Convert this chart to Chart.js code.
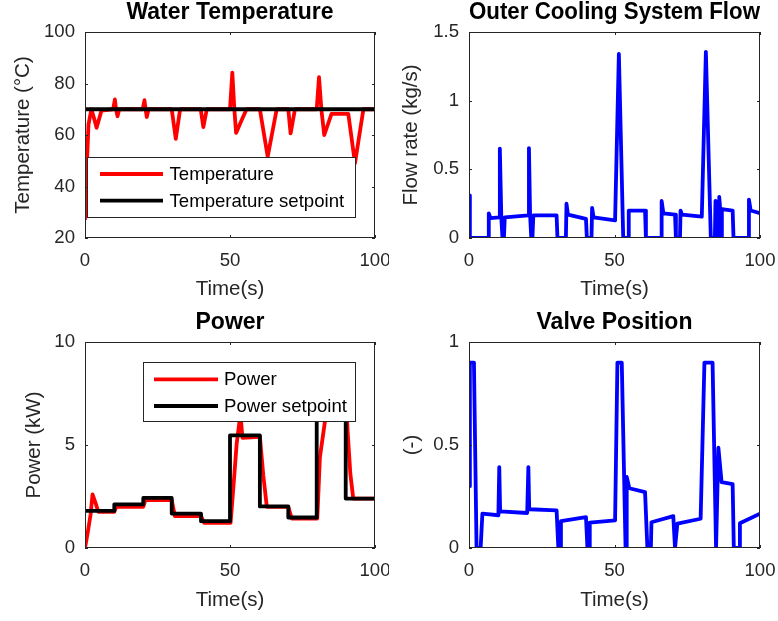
<!DOCTYPE html>
<html>
<head>
<meta charset="utf-8">
<script src="https://cdn.jsdelivr.net/npm/chart.js@4.4.1/dist/chart.umd.min.js"></script>
<style>
    body{margin:0;background:#fff;width:778px;height:621px;position:relative;overflow:hidden;}
    canvas{position:absolute;}
</style>
</head>
<body>
<canvas id="tempChart" width="389" height="310" style="left:0;top:0"></canvas>
<canvas id="flowChart" width="389" height="310" style="left:389px;top:0"></canvas>
<canvas id="powerChart" width="389" height="311" style="left:0;top:310px"></canvas>
<canvas id="valveChart" width="389" height="311" style="left:389px;top:310px"></canvas>
<script>
// Data

    const timeTicks = [0, 50, 100];

    // water temperature
    const tTemp = [0, 0.6, 1.2, 2.2, 3, 4, 5.7, 9.7, 10.3, 10.7, 11.2, 11.8, 19.9, 20.5, 20.9, 21.3, 21.9,
        29.9, 31.3, 32.8, 39.9, 40.8, 42, 50, 50.8, 51.5, 52.1, 54, 55.7, 60.3, 63, 66.1,
        70.1, 70.9, 72.4, 79.9, 80.7, 81.5, 82.5, 85, 90.8, 93.1, 96, 100];
    const temp = [27, 47, 64, 70, 67, 62.8, 69.5, 70, 73.8, 70, 67.3, 70, 70, 73.5, 70, 67, 70,
        70, 58.5, 70, 70, 63.1, 70, 70, 84.2, 70, 60.8, 65.7, 70, 70, 51.6, 70,
        70, 60.6, 70, 70, 82.5, 70, 60, 68.2, 68.2, 49, 70, 70];
    const tTempSet = [0, 100];
    const tempSet = [70, 70];
    const tempTicks = [20, 40, 60, 80, 100];

    // outer cooling flow
    const tFlow = [0, 0.3, 6.6, 6.8, 7.4, 10.4, 10.6, 11.1, 11.5, 12, 12.3,
        20.3, 20.6, 21, 21.4, 21.8, 22.1, 30.1, 30.4, 33.3, 33.5, 34, 40.2, 40.5,
        42.1, 42.3, 42.8, 50.2, 51.5, 53, 54.7, 54.9, 60.5, 60.8, 66, 66.2, 66.8,
        70.8, 71.1, 72.5, 72.7, 73.2, 80, 81.4, 83.1, 84.5, 84.7, 85, 85.3, 85.8,
        86, 86.3, 86.6, 86.9, 90.6, 90.9, 96, 96.2, 96.8, 100];
    const flow = [0.31, 0, 0, 0.18, 0.145, 0.15, 0.65, 0.15, 0, 0, 0.15,
        0.165, 0.655, 0.165, 0, 0, 0.165, 0.165, 0, 0, 0.25, 0.17, 0.14, 0,
        0, 0.22, 0.15, 0.128, 1.34, 0, 0, 0.2, 0.2, 0, 0, 0.27, 0.18,
        0.17, 0, 0, 0.2, 0.17, 0.155, 1.355, 0, 0, 0.27, 0.25, 0, 0,
        0.3, 0.21, 0, 0.21, 0.2, 0, 0, 0.28, 0.2, 0.18];
    const flowTicks = [0, 0.5, 1, 1.5];

    // power
    const tPower = [0, 1, 1.9, 2.6, 3.6, 4.6, 10.1, 10.8, 20.1, 20.8, 29.9, 31, 40, 41.1,
        50.2, 51.2, 52.3, 53.6, 54.3, 60.3, 61.5, 62.7, 70.1, 71.3,
        80.1, 81, 82.8, 84.5, 89.9, 90.5, 91.5, 92.5, 100];
    const power = [0, 0.8, 1.6, 2.6, 2.2, 1.76, 1.76, 2.0, 2.0, 2.32, 2.32, 1.55, 1.55, 1.22,
        1.22, 3, 5.06, 6.5, 5.35, 5.4, 3.5, 2.0, 2.0, 1.43,
        1.43, 4.4, 6.2, 7.8, 8.1, 5.8, 3.6, 2.4, 2.4];
    const tPowerSet = [0, 10.1, 20.1, 29.9, 40, 50, 60.3, 70.1, 79.9, 89.9, 100];
    const powerSet = [1.8, 2.12, 2.43, 1.67, 1.3, 5.47, 2.02, 1.48, 8, 2.4, 2.4];
    const powerTicks = [0, 5, 10];

    // valve position
    const tValve = [0, 0.3, 1.7, 2.6, 4.0, 4.6, 10.1, 10.4, 10.7, 20.0, 20.4, 20.7,
        30.1, 30.7, 31.5, 31.6, 40.2, 40.7, 41.4, 41.5, 50.2, 51, 52.5, 53.8, 54.0, 54.2, 55.1,
        60.5, 61.3, 62.5, 62.7, 70.2, 70.8, 71.6, 79.6, 80.9, 83.7, 84.9, 85.7, 86.8,
        90.6, 91, 92.9, 93.1, 100];
    const valve = [0.3, 0.9, 0.9, 0, 0, 0.167, 0.159, 0.393, 0.178, 0.17, 0.393, 0.188,
        0.183, 0, 0, 0.13, 0.15, 0, 0, 0.123, 0.134, 0.9, 0.9, 0, 0, 0.345, 0.29,
        0.271, 0, 0, 0.125, 0.155, 0, 0.118, 0.142, 0.9, 0.9, 0, 0.487, 0.32,
        0.31, 0, 0, 0.12, 0.167];
    const valveTicks = [0, 0.5, 1];

// End data

    const FONT = "'Liberation Sans', Arial, Helvetica, sans-serif";
    const AXIS = '#262626';
    const LW = 3.8;

    function pts(xs, ys){
        return xs.map((x, i) => ({x: x, y: ys[i]}));
    }

    function line(label, xs, ys, color, order, stepped){
        return {
            label: label,
            data: pts(xs, ys),
            borderColor: color,
            backgroundColor: color,
            borderWidth: LW,
            borderJoinStyle: 'round',
            pointRadius: 0,
            tension: 0,
            stepped: stepped || false,
            order: order
        };
    }

    // matlab style box with inner ticks
    const frame = {
        id: 'frame',
        afterDatasetsDraw(chart){
            const ctx = chart.ctx;
            const a = chart.chartArea;
            const x = chart.scales.x, y = chart.scales.y;
            ctx.save();
            ctx.strokeStyle = AXIS;
            ctx.lineWidth = 1;
            ctx.strokeRect(a.left + 0.5, a.top + 0.5, a.right - a.left - 1, a.bottom - a.top - 1);
            ctx.beginPath();
            x.ticks.forEach(t => {
                const px = Math.round(x.getPixelForValue(t.value)) + 0.5;
                ctx.moveTo(px, a.bottom); ctx.lineTo(px, a.bottom - 3);
                ctx.moveTo(px, a.top); ctx.lineTo(px, a.top + 3);
            });
            y.ticks.forEach(t => {
                const py = Math.round(y.getPixelForValue(t.value)) + 0.5;
                ctx.moveTo(a.left, py); ctx.lineTo(a.left + 3, py);
                ctx.moveTo(a.right, py); ctx.lineTo(a.right - 3, py);
            });
            ctx.stroke();
            ctx.restore();
        }
    };

    // legend box drawn inside the axes
    const boxLegend = {
        id: 'boxLegend',
        afterDraw(chart, args, o){
            if(!o || !o.box) return;
            const ctx = chart.ctx;
            ctx.save();
            ctx.fillStyle = '#fff';
            ctx.fillRect(o.box[0], o.box[1], o.box[2], o.box[3]);
            ctx.strokeStyle = AXIS;
            ctx.lineWidth = 1;
            ctx.strokeRect(o.box[0] + 0.5, o.box[1] + 0.5, o.box[2], o.box[3]);
            ctx.font = '18.6px ' + FONT;
            ctx.textBaseline = 'middle';
            ctx.fillStyle = '#000';
            chart.data.datasets.forEach((ds, i) => {
                const ry = o.rows[i];
                ctx.strokeStyle = ds.borderColor;
                ctx.lineWidth = LW;
                ctx.beginPath();
                ctx.moveTo(o.lineX[0], ry);
                ctx.lineTo(o.lineX[1], ry);
                ctx.stroke();
                ctx.fillText(ds.label, o.textX, ry + 1);
            });
            ctx.restore();
        }
    };

    function makeChart(id, datasets, c){
        return new Chart(document.getElementById(id), {
            type: 'line',
            data: {datasets: datasets},
            options: {
                responsive: false,
                animation: false,
                parsing: false,
                layout: {padding: {left: 0, right: c.padRight, top: 0, bottom: 0}},
                plugins: {
                    legend: {display: false},
                    tooltip: {enabled: false},
                    title: {
                        display: true,
                        text: c.title,
                        fullSize: false,
                        color: '#000',
                        font: {family: FONT, size: 23, weight: 'bold', lineHeight: 1},
                        padding: {top: 1.5, bottom: 7.5}
                    },
                    boxLegend: c.legend || {}
                },
                scales: {
                    x: {
                        type: 'linear', min: 0, max: 100,
                        grid: {display: false, drawTicks: false},
                        border: {display: false},
                        afterBuildTicks: s => { s.ticks = timeTicks.map(v => ({value: v})); },
                        afterFit: s => { s.height = c.xHeight; s.paddingLeft = 0; s.paddingRight = 0; },
                        ticks: {color: AXIS, font: {family: FONT, size: 18.6}, padding: 12, maxRotation: 0, autoSkip: false},
                        title: {display: true, text: 'Time(s)', color: AXIS, font: {family: FONT, size: 20.5}, padding: {top: 0, bottom: 8.5}}
                    },
                    y: {
                        type: 'linear', min: c.yMin, max: c.yMax,
                        grid: {display: false, drawTicks: false},
                        border: {display: false},
                        afterBuildTicks: s => { s.ticks = c.yTicks.map(v => ({value: v})); },
                        afterFit: s => { s.width = c.yWidth; s.paddingTop = 0; s.paddingBottom = 0; },
                        ticks: {color: AXIS, font: {family: FONT, size: 18.6}, padding: 10, autoSkip: false,
                            callback: v => String(v)},
                        title: {display: true, text: c.yTitle, color: AXIS, font: {family: FONT, size: 20.5}, padding: {top: c.yTitlePad, bottom: 0}}
                    }
                }
            },
            plugins: [frame, boxLegend]
        });
    }

    makeChart('tempChart', [
        line('Temperature', tTemp, temp, '#ff0000', 1),
        line('Temperature setpoint', tTempSet, tempSet, '#000000', 0)
    ], {
        title: 'Water Temperature', yTitle: 'Temperature (°C)', yMin: 20, yMax: 100, yTicks: tempTicks,
        padRight: 14, yWidth: 85, xHeight: 72, yTitlePad: 10.7,
        legend: {box: [87, 157, 268, 60], lineX: [100, 163], textX: 169.5, rows: [174, 200.7]}
    });

    makeChart('flowChart', [
        line('Flow', tFlow, flow, '#0000ff', 0)
    ], {
        title: 'Outer Cooling System Flow', yTitle: 'Flow rate (kg/s)', yMin: 0, yMax: 1.5, yTicks: flowTicks,
        padRight: 18, yWidth: 80, xHeight: 72, yTitlePad: 10.4
    });

    makeChart('powerChart', [
        line('Power', tPower, power, '#ff0000', 1),
        line('Power setpoint', tPowerSet, powerSet, '#000000', 0, 'before')
    ], {
        title: 'Power', yTitle: 'Power (kW)', yMin: 0, yMax: 10, yTicks: powerTicks,
        padRight: 14, yWidth: 85, xHeight: 73, yTitlePad: 21.7,
        legend: {box: [143, 52, 212, 59], lineX: [154, 218], textX: 224, rows: [69.3, 96]}
    });

    makeChart('valveChart', [
        line('Valve', tValve, valve, '#0000ff', 0)
    ], {
        title: 'Valve Position', yTitle: '(-)', yMin: 0, yMax: 1, yTicks: valveTicks,
        padRight: 18, yWidth: 80, xHeight: 73, yTitlePad: 10.7
    });
</script>
</body>
</html>
